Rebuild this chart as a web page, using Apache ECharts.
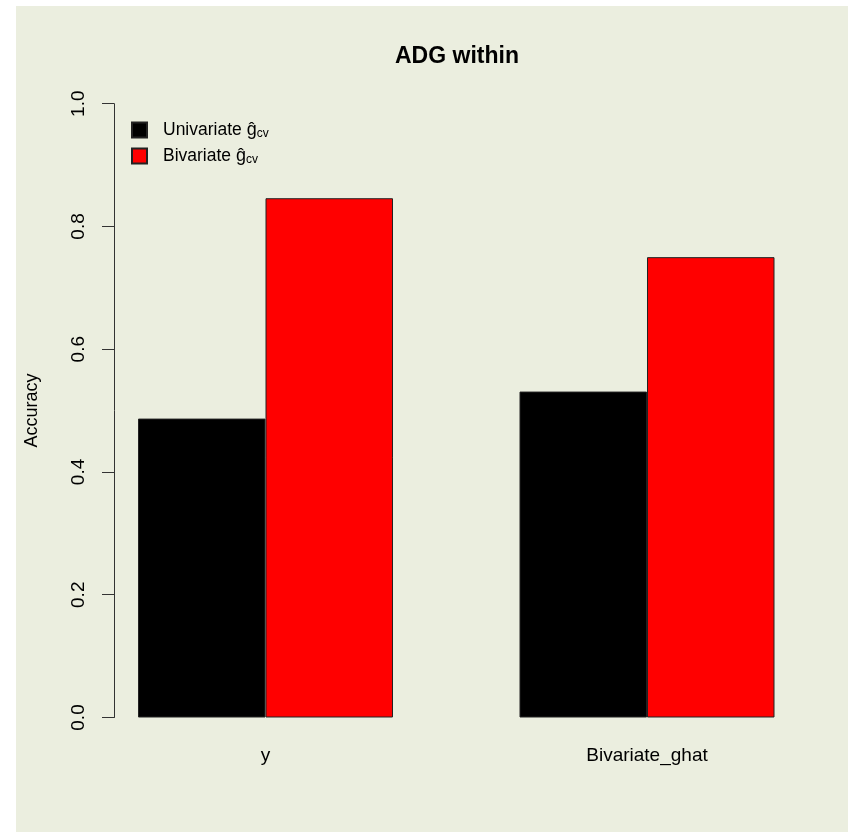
<!DOCTYPE html>
<html>
<head>
<meta charset="utf-8">
<script src="https://cdn.jsdelivr.net/npm/echarts@6/dist/echarts.min.js"></script>
<style>
html,body{margin:0;padding:0;background:#ffffff;}
#panel{position:absolute;left:16px;top:6px;width:832px;height:826px;background:#EBEEDF;}
#chart{position:absolute;left:0;top:0;width:848px;height:832px;}
</style>
</head>
<body>
<div id="panel"></div>
<div id="chart"></div>
<script>
var categories = ['y', 'Bivariate_ghat'];
var univariate = [0.487, 0.531];
var bivariate = [0.846, 0.750];
var yTicks = [0, 0.2, 0.4, 0.6, 0.8, 1.0];

var chart = echarts.init(document.getElementById('chart'), null, {renderer: 'canvas'});
var font = 'Liberation Sans, Arial, sans-serif';
chart.setOption({
  backgroundColor: 'transparent',
  animation: false,
  title: {
    text: 'ADG within',
    left: 390, top: 40,
    textStyle: {fontFamily: font, fontWeight: 'bold', fontSize: 23, color: '#000'}
  },
  legend: {
    left: 126, top: 116, orient: 'vertical',
    itemWidth: 15, itemHeight: 15, itemGap: 7,
    icon: 'rect',
    data: ['Univariate', 'Bivariate'],
    formatter: function (n) { return n + ' {g|ĝ}{sub|cv}'; },
    textStyle: {
      fontFamily: font, fontSize: 17.5, color: '#000', padding: [0, 0, 0, 11],
      rich: {
        g: {fontFamily: font, fontSize: 18, color: '#000'},
        sub: {fontFamily: font, fontSize: 12, color: '#000', verticalAlign: 'bottom', padding: [8, 0, 0, 0]}
      }
    }
  },
  grid: {left: 74.75, right: 10.25, top: 103.7, bottom: 114.5, containLabel: false},
  xAxis: {
    type: 'category',
    data: categories,
    axisLine: {show: false},
    axisTick: {show: false},
    axisLabel: {fontFamily: font, fontSize: 19, color: '#000', margin: 29}
  },
  yAxis: {
    type: 'value',
    min: 0, max: 1, interval: 0.2,
    offset: -39.25,
    name: 'Accuracy',
    nameLocation: 'middle',
    nameGap: 73,
    nameTextStyle: {fontFamily: font, fontSize: 18, color: '#000'},
    axisLine: {show: true, lineStyle: {color: '#333', width: 1}},
    axisTick: {show: true, length: 12, lineStyle: {color: '#333'}},
    splitLine: {show: false},
    axisLabel: {
      rotate: 90, fontFamily: font, fontSize: 19, color: '#000', margin: 26,
      align: 'center', verticalAlign: 'bottom',
      formatter: function (v) { return v.toFixed(1); }
    }
  },
  series: [
    {name: 'Univariate', type: 'bar', data: univariate, barWidth: 127.5, barGap: '0%',
     itemStyle: {color: '#000000', borderColor: '#222', borderWidth: 1}},
    {name: 'Bivariate', type: 'bar', data: bivariate, barWidth: 127.5, barGap: '0%',
     itemStyle: {color: '#FF0000', borderColor: '#222', borderWidth: 1}}
  ]
});
</script>
</body>
</html>
